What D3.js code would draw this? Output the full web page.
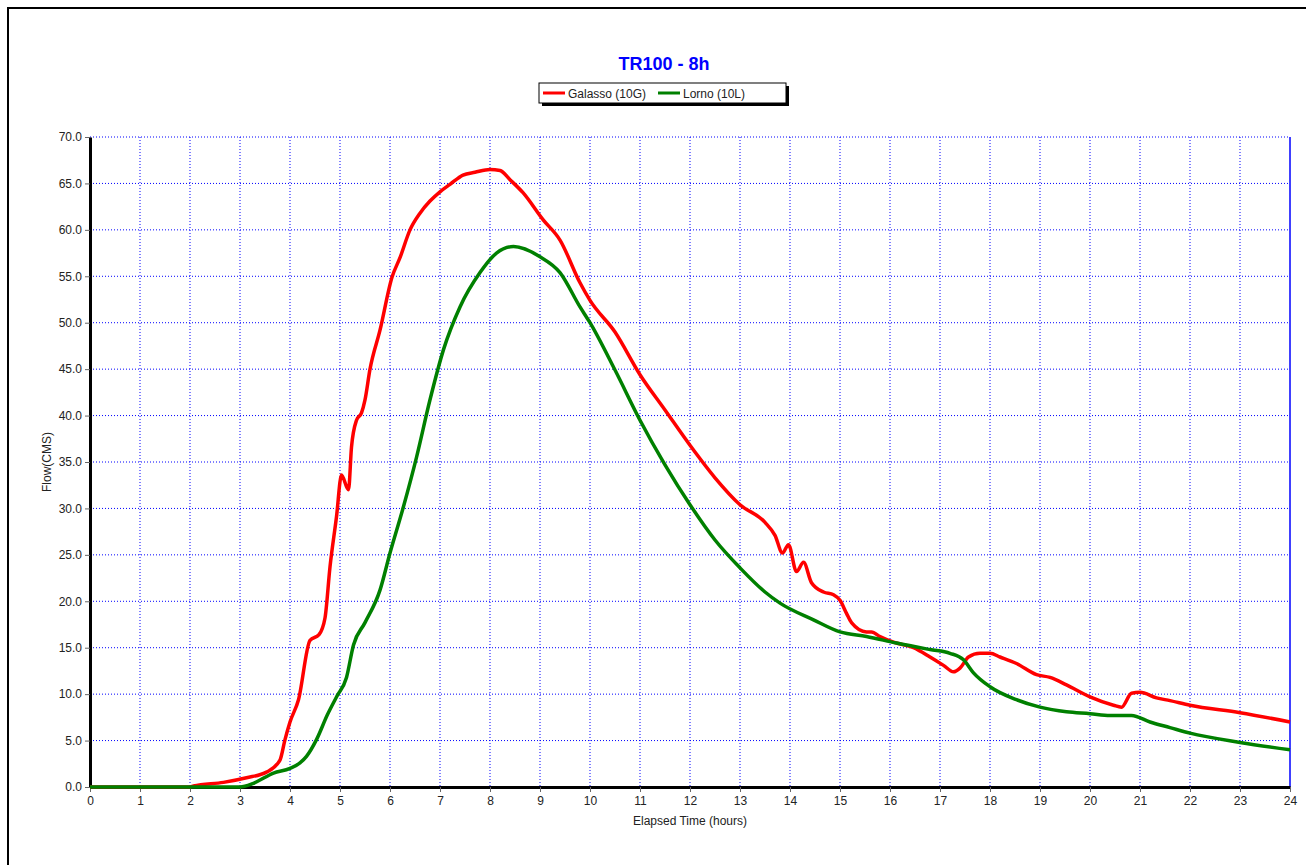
<!DOCTYPE html>
<html>
<head>
<meta charset="utf-8">
<script src="https://cdn.jsdelivr.net/npm/d3@7"></script>
<style>
  body { margin: 0; background: #fff; }
  svg { display: block; font-family: Arial, "Liberation Sans", sans-serif; }
</style>
</head>
<body>
<div id="chart"></div>
<script>
// hydrograph values (hours, CMS)
const galassoT = [0, 2.0, 2.07, 2.67, 3.13, 3.53, 3.8, 3.9, 4.0, 4.17, 4.4, 4.58, 4.7, 4.8, 4.93, 5.03, 5.17, 5.23, 5.33, 5.43, 5.5, 5.6, 5.8, 6.04, 6.2, 6.4, 6.6, 6.8, 7.0, 7.2, 7.46, 7.7, 8.0, 8.2, 8.4, 8.66, 9.06, 9.4, 9.8, 10.0, 10.5, 11.0, 11.5, 12.0, 12.5, 13.0, 13.5, 13.7, 13.85, 13.97, 14.13, 14.27, 14.43, 14.67, 14.87, 15.0, 15.13, 15.23, 15.53, 15.63, 15.8, 16.07, 16.47, 16.8, 17.07, 17.27, 17.4, 17.57, 17.8, 18.0, 18.2, 18.53, 18.93, 19.2, 19.53, 20.0, 20.47, 20.63, 20.83, 21.0, 21.33, 21.6, 22.0, 23.0, 24.0];
const galassoQ = [0, 0, 0.1, 0.5, 1.0, 1.6, 2.9, 5.1, 7.0, 9.4, 15.8, 16.4, 18.2, 23.7, 29.1, 33.6, 32.0, 36.6, 39.5, 40.3, 41.7, 45.0, 49.2, 54.9, 57.0, 60.0, 61.8, 63.1, 64.1, 64.9, 65.9, 66.2, 66.5, 66.4, 65.4, 64.0, 61.1, 58.9, 54.3, 52.4, 49.0, 44.4, 40.6, 36.8, 33.3, 30.4, 28.5, 27.1, 25.2, 26.1, 23.2, 24.2, 22.0, 21.0, 20.7, 20.1, 18.7, 17.7, 16.7, 16.7, 16.2, 15.6, 15.0, 14.0, 13.1, 12.4, 12.8, 14.0, 14.4, 14.4, 14.0, 13.3, 12.1, 11.8, 11.0, 9.7, 8.8, 8.6, 10.1, 10.2, 9.6, 9.3, 8.8, 8.0, 7.0];

const lornoT = [0, 3.0, 3.27, 3.67, 4.0, 4.2, 4.33, 4.53, 4.75, 4.93, 5.13, 5.27, 5.5, 5.8, 6.0, 6.27, 6.53, 6.8, 7.07, 7.4, 7.8, 8.13, 8.47, 9.0, 9.4, 9.8, 10.0, 10.5, 11.0, 11.5, 12.0, 12.5, 13.0, 13.5, 13.8, 14.47, 15.0, 15.53, 16.13, 16.8, 17.2, 17.47, 17.67, 18.0, 18.53, 19.0, 19.53, 20.0, 20.4, 20.83, 21.2, 21.6, 22.0, 23.0, 24.0];
const lornoQ = [0, 0, 0.4, 1.5, 2.0, 2.6, 3.3, 5.1, 7.8, 9.7, 11.8, 15.3, 17.7, 21.2, 25.2, 30.2, 35.5, 41.7, 47.1, 51.7, 55.4, 57.5, 58.2, 57.1, 55.4, 51.7, 50.0, 44.9, 39.5, 34.7, 30.4, 26.6, 23.6, 21.0, 19.8, 18.0, 16.7, 16.2, 15.5, 14.8, 14.4, 13.7, 12.3, 10.8, 9.4, 8.6, 8.1, 7.9, 7.7, 7.7, 7.0, 6.4, 5.8, 4.8, 4.0];

const seriesNames = ["Galasso (10G)", "Lorno (10L)"];
const seriesColors = ["#ff0000", "#008000"];
const xTicks = d3.range(0, 25, 1);
const yTicks = d3.range(0, 70.1, 5);
const titleText = "TR100 - 8h";
const xLabel = "Elapsed Time (hours)";
const yLabel = "Flow(CMS)";

const W = 1306, H = 865;
const margin = {t: 137, r: 16, b: 78, l: 90};
const innerWidth = W - margin.l - margin.r;   // 1200
const innerHeight = H - margin.t - margin.b;  // 650

const scaleX = d3.scaleLinear().domain([0, 24]).range([0, innerWidth]);
const scaleY = d3.scaleLinear().domain([0, 70]).range([innerHeight, 0]);

const svg = d3.select('#chart').append('svg')
  .attr('width', W)
  .attr('height', H);

// outer frame, only the top and left edges fall inside the picture
svg.append('path')
  .attr('d', `M8,${H} V8 H${W}`)
  .attr('fill', 'none')
  .attr('stroke', '#000')
  .attr('stroke-width', 2);

svg.append('text')
  .attr('x', 664).attr('y', 70)
  .attr('text-anchor', 'middle')
  .attr('font-size', 18).attr('font-weight', 'bold')
  .attr('fill', '#0000ff')
  .text(titleText);

// legend
const lg = svg.append('g').attr('transform', 'translate(539,83)');
lg.append('rect').attr('x', 3).attr('y', 3).attr('width', 247).attr('height', 20).attr('fill', '#000');
lg.append('rect').attr('width', 247).attr('height', 20).attr('fill', '#fff').attr('stroke', '#000');
const legendX = [4, 119];
seriesNames.forEach((name, i) => {
  lg.append('line')
    .attr('x1', legendX[i]).attr('x2', legendX[i] + 22)
    .attr('y1', 10).attr('y2', 10)
    .attr('stroke', seriesColors[i]).attr('stroke-width', 3);
  lg.append('text')
    .attr('x', legendX[i] + 25).attr('y', 14.5)
    .attr('font-size', 12).attr('fill', '#222')
    .text(name);
});

const plot = svg.append('g').attr('transform', `translate(${margin.l},${margin.t})`);

// grid
plot.append('g').selectAll('line').data(xTicks.slice(1, -1)).join('line')
  .attr('x1', d => scaleX(d)).attr('x2', d => scaleX(d))
  .attr('y1', 0).attr('y2', innerHeight)
  .attr('stroke', '#0000ff').attr('stroke-width', 1).attr('stroke-dasharray', '1,2');
plot.append('g').selectAll('line').data(yTicks.slice(1)).join('line')
  .attr('x1', 0).attr('x2', innerWidth)
  .attr('y1', d => scaleY(d)).attr('y2', d => scaleY(d))
  .attr('stroke', '#0000ff').attr('stroke-width', 1).attr('stroke-dasharray', '1,2');
plot.append('line')
  .attr('x1', innerWidth).attr('x2', innerWidth)
  .attr('y1', 0).attr('y2', innerHeight)
  .attr('stroke', '#0000ff').attr('stroke-width', 1.5);

// axes
const axisX = d3.axisBottom(scaleX).tickValues(xTicks).tickSize(5).tickSizeOuter(0).tickPadding(4);
const axisY = d3.axisLeft(scaleY).tickValues(yTicks).tickSize(5).tickSizeOuter(0).tickPadding(3)
  .tickFormat(d3.format('.1f'));

const gx = plot.append('g').attr('transform', `translate(0,${innerHeight})`).call(axisX);
const gy = plot.append('g').call(axisY);
[gx, gy].forEach(g => {
  g.attr('font-size', 12).attr('font-family', 'Arial, "Liberation Sans", sans-serif');
  g.select('.domain').attr('stroke', '#000').attr('stroke-width', 3);
  g.selectAll('.tick line').attr('stroke', '#666');
  g.selectAll('.tick text').attr('fill', '#222');
});

// series
const lineGenerator = d3.line()
  .x(d => scaleX(d[0]))
  .y(d => scaleY(d[1]))
  .curve(d3.curveMonotoneX);

const series = [
  d3.zip(galassoT, galassoQ),
  d3.zip(lornoT, lornoQ)
];
series.forEach((data, i) => {
  plot.append('path')
    .datum(data)
    .attr('fill', 'none')
    .attr('stroke', seriesColors[i])
    .attr('stroke-width', 3.5)
    .attr('stroke-linejoin', 'round')
    .attr('d', lineGenerator);
});

// axis titles
svg.append('text')
  .attr('x', margin.l + innerWidth / 2).attr('y', 825)
  .attr('text-anchor', 'middle').attr('font-size', 12).attr('fill', '#222')
  .text(xLabel);
svg.append('text')
  .attr('transform', `translate(51,${margin.t + innerHeight / 2}) rotate(-90)`)
  .attr('text-anchor', 'middle').attr('font-size', 12).attr('fill', '#222')
  .text(yLabel);
</script>
</body>
</html>
